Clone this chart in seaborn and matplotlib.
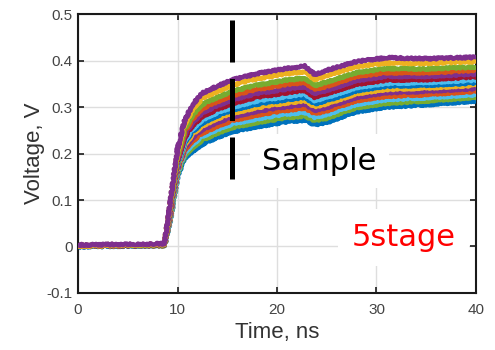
import pandas as pd
import matplotlib
matplotlib.use("Agg")
import matplotlib.pyplot as plt
import seaborn as sns

# time axis (ns) shared by every trace
time_ns = [0, 8.7, 9.3, 10, 10.7, 11.5, 12.5, 14, 15.5, 18, 21, 22.8, 23.8, 25, 28, 31, 35, 40]

# voltage traces, bottom to top at t = 40 ns
v01 = [0.000, 0.002, 0.060, 0.150, 0.190, 0.205, 0.220, 0.235, 0.247, 0.258, 0.268, 0.272, 0.262, 0.267, 0.290, 0.300, 0.305, 0.313]
v02 = [0.002, 0.003, 0.063, 0.155, 0.196, 0.213, 0.229, 0.244, 0.256, 0.267, 0.277, 0.281, 0.271, 0.276, 0.299, 0.308, 0.313, 0.321]
v03 = [0.001, 0.002, 0.066, 0.159, 0.202, 0.220, 0.237, 0.252, 0.264, 0.275, 0.285, 0.289, 0.278, 0.284, 0.306, 0.316, 0.320, 0.327]
v04 = [0.003, 0.004, 0.069, 0.163, 0.208, 0.227, 0.244, 0.259, 0.271, 0.283, 0.293, 0.298, 0.286, 0.292, 0.314, 0.323, 0.327, 0.334]
v05 = [0.001, 0.003, 0.072, 0.167, 0.213, 0.234, 0.252, 0.267, 0.279, 0.291, 0.301, 0.306, 0.293, 0.299, 0.321, 0.331, 0.334, 0.340]
v06 = [0.002, 0.002, 0.074, 0.172, 0.219, 0.241, 0.260, 0.275, 0.287, 0.299, 0.309, 0.314, 0.301, 0.307, 0.329, 0.338, 0.341, 0.347]
v07 = [0.000, 0.003, 0.077, 0.175, 0.224, 0.247, 0.266, 0.281, 0.294, 0.306, 0.316, 0.321, 0.307, 0.314, 0.335, 0.345, 0.347, 0.352]
v08 = [0.002, 0.004, 0.079, 0.179, 0.228, 0.253, 0.273, 0.288, 0.300, 0.313, 0.323, 0.328, 0.314, 0.321, 0.342, 0.351, 0.353, 0.358]
v09 = [0.001, 0.003, 0.082, 0.183, 0.234, 0.260, 0.280, 0.295, 0.308, 0.321, 0.331, 0.336, 0.321, 0.329, 0.349, 0.358, 0.359, 0.365]
v10 = [0.003, 0.004, 0.085, 0.187, 0.240, 0.267, 0.288, 0.303, 0.316, 0.329, 0.339, 0.344, 0.329, 0.336, 0.357, 0.366, 0.366, 0.371]
v11 = [0.001, 0.005, 0.088, 0.192, 0.246, 0.275, 0.297, 0.312, 0.325, 0.338, 0.349, 0.353, 0.338, 0.345, 0.366, 0.374, 0.374, 0.379]
v12 = [0.002, 0.004, 0.091, 0.197, 0.252, 0.283, 0.306, 0.321, 0.334, 0.347, 0.358, 0.362, 0.346, 0.354, 0.374, 0.383, 0.382, 0.386]
v13 = [0.001, 0.005, 0.096, 0.204, 0.262, 0.295, 0.319, 0.334, 0.347, 0.361, 0.372, 0.376, 0.359, 0.368, 0.387, 0.395, 0.394, 0.398]
v14 = [0.003, 0.006, 0.100, 0.210, 0.270, 0.305, 0.330, 0.345, 0.358, 0.372, 0.383, 0.388, 0.370, 0.379, 0.398, 0.406, 0.404, 0.407]

traces = [v01, v02, v03, v04, v05, v06, v07, v08, v09, v10, v11, v12, v13, v14]
trace_names = ["s%02d" % (i + 1) for i in range(len(traces))]

# MATLAB default colour order
blue, orange, yellow, purple = "#0072BD", "#D95319", "#EDB120", "#7E2F8E"
green, lblue, dred = "#77AC30", "#4DBEEE", "#A2142F"
trace_colors = [blue, green, lblue, orange, purple, yellow, blue, lblue,
                dred, purple, orange, green, yellow, purple]

x_ticks = [0, 10, 20, 30, 40]
y_ticks = [-0.1, 0, 0.1, 0.2, 0.3, 0.4, 0.5]
y_tick_labels = ["-0.1", "0", "0.1", "0.2", "0.3", "0.4", "0.5"]

rows = []
for name, vals in zip(trace_names, traces):
    for t, v in zip(time_ns, vals):
        rows.append({"trace": name, "time": t, "voltage": v})
df = pd.DataFrame(rows)

sns.set_theme(style="ticks")
plt.rcParams["font.family"] = ["Liberation Sans", "DejaVu Sans"]

fig = plt.figure(figsize=(4.95, 3.5), dpi=100)
ax = fig.add_axes([0.1576, 0.1629, 0.804, 0.797])

sns.lineplot(data=df, x="time", y="voltage", hue="trace",
             palette=dict(zip(trace_names, trace_colors)),
             linewidth=3.3, sort=False, legend=False, ax=ax, zorder=3)
for ln in ax.get_lines():
    ln.set_sketch_params(scale=0.9, length=4, randomness=3)
    ln.set_solid_joinstyle("round")

# sampling marker
ax.plot([15.5, 15.5], [0.487, 0.145], color="black", linewidth=3.6,
        linestyle=(0, (8.4, 3.3)), dash_capstyle="butt", zorder=4)

ax.text(18.5, 0.165, "Sample", fontsize=22, family="DejaVu Sans", color="black",
        va="baseline", ha="left", zorder=5,
        bbox=dict(facecolor="white", edgecolor="none", pad=9))
ax.text(27.5, 0.001, "5stage", fontsize=22, family="DejaVu Sans", color="red",
        va="baseline", ha="left", zorder=5,
        bbox=dict(facecolor="white", edgecolor="none", pad=10))

ax.set_xlim(0, 40)
ax.set_ylim(-0.1, 0.5)
ax.set_xticks(x_ticks)
ax.set_xticklabels([str(t) for t in x_ticks])
ax.set_yticks(y_ticks)
ax.set_yticklabels(y_tick_labels)
ax.grid(True, color="#dedede", linewidth=1.0, zorder=0)
ax.set_axisbelow(True)

for sp in ax.spines.values():
    sp.set_visible(True)
    sp.set_color("#1a1a1a")
    sp.set_linewidth(1.5)
ax.tick_params(direction="in", length=4, width=1.2, colors="#1a1a1a",
               top=True, right=True, labelsize=11)
ax.tick_params(axis="x", pad=7, labelcolor="#444444")
ax.tick_params(axis="y", pad=4, labelcolor="#444444")

ax.set_xlabel("Time, ns", fontsize=16, color="#333333", labelpad=4)
ax.set_ylabel("Voltage, V", fontsize=16, color="#333333", labelpad=1)

fig.savefig("out.png", dpi=100)
